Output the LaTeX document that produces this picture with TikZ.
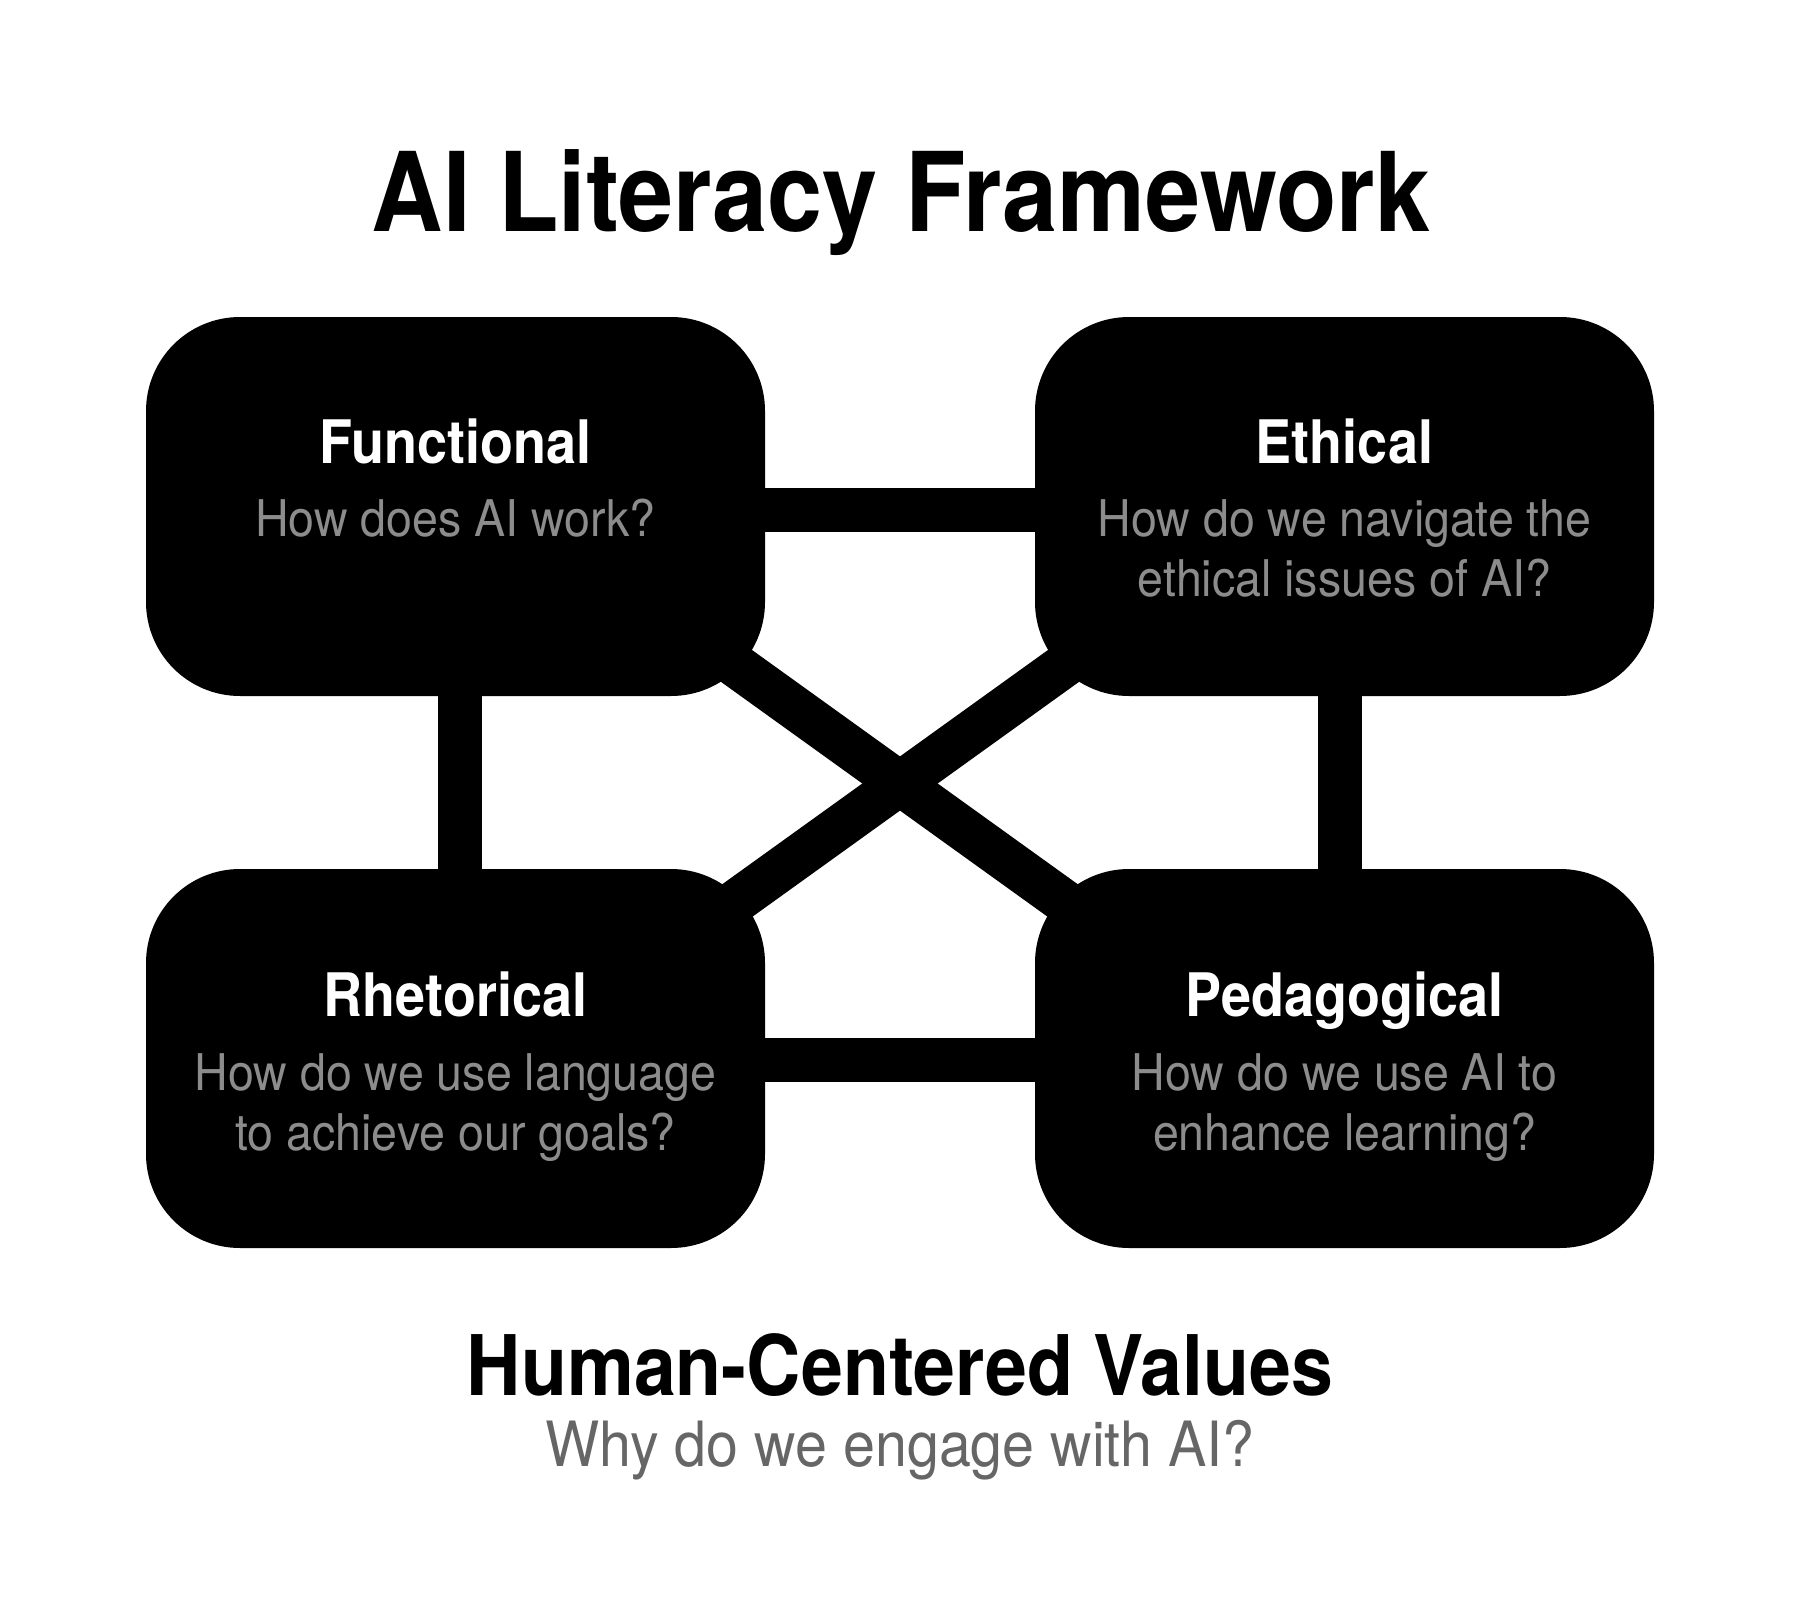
\documentclass[tikz,border=0pt]{standalone}
\usepackage{fontspec}
\usetikzlibrary{calc}
\newfontfamily\hbold[FakeStretch=0.9]{TeX Gyre Heros}
\newfontfamily\hreg[FakeStretch=0.92]{TeX Gyre Heros}
\definecolor{subgray}{HTML}{8C8C8C}
\definecolor{lowgray}{HTML}{666666}
\pgfdeclarelayer{back}
\pgfsetlayers{back,main}
\begin{document}
\begin{tikzpicture}[x=0.5pt,y=-0.5pt,
  card/.style={fill=black, draw=none, rounded corners=47pt, minimum width=309.5pt, minimum height=189.5pt, inner sep=0pt},
  link/.style={draw=black, line width=22pt},
  cardtitle/.style={anchor=base, inner sep=0pt, text=white, font=\hbold\bfseries\fontsize{30pt}{36pt}\selectfont},
  cardsub/.style={anchor=base, inner sep=0pt, text=subgray, font=\hreg\fontsize{25.3pt}{30pt}\selectfont},
  headline/.style={anchor=base, inner sep=0pt, text=black, font=\hbold\bfseries\fontsize{55pt}{60pt}\selectfont},
  footline/.style={anchor=base, inner sep=0pt, text=black, font=\hbold\bfseries\fontsize{41.8pt}{48pt}\selectfont},
  footsub/.style={anchor=base, inner sep=0pt, text=lowgray, font=\hreg\fontsize{31.2pt}{36pt}\selectfont}
]
\useasboundingbox (0,0) rectangle (1800,1600);

% title
\node[headline] (title) at (901,231) {AI Literacy Framework};

% cards
\node[card] (f) at (455.5,506.5) {};
\node[card] (e) at (1344.5,506.5) {};
\node[card] (r) at (455.5,1058.5) {};
\node[card] (p) at (1344.5,1058.5) {};

% diagonal end points (hidden inside the cards)
\coordinate (f-d) at ($(f.south east)+(-95,-78)$);
\coordinate (p-d) at ($(p.north west)+(95,80)$);
\coordinate (e-d) at ($(e.south west)+(95,-78)$);
\coordinate (r-d) at ($(r.north east)+(-95,80)$);

\begin{pgfonlayer}{back}
\fill[white] (0,0) rectangle (1800,1600);
\draw[link] ([yshift=-1.75pt]f.east) -- ([yshift=-1.75pt]e.west);
\draw[link] ([yshift=-0.75pt]r.east) -- ([yshift=-0.75pt]p.west);
\draw[link] ([xshift=2.25pt]f.south) -- ([xshift=2.25pt]r.north);
\draw[link] ([xshift=-2.25pt]e.south) -- ([xshift=-2.25pt]p.north);
\draw[link] (f-d) -- (p-d);
\draw[link] (e-d) -- (r-d);
\end{pgfonlayer}

% card texts
\node[cardtitle] (f-t) at ($(f.north)+(0,147)$) {Functional};
\node[cardsub] (f-s1) at ($(f.north)+(0,220)$) {How does AI work?};

\node[cardtitle] (e-t) at ($(e.north)+(0,147)$) {Ethical};
\node[cardsub] (e-s1) at ($(e.north)+(0,220)$) {How do we navigate the};
\node[cardsub] (e-s2) at ($(e.north)+(0,280)$) {ethical issues of AI?};

\node[cardtitle] (r-t) at ($(r.north)+(0,148)$) {Rhetorical};
\node[cardsub] (r-s1) at ($(r.north)+(0,222)$) {How do we use language};
\node[cardsub] (r-s2) at ($(r.north)+(0,282)$) {to achieve our goals?};

\node[cardtitle] (p-t) at ($(p.north)+(0,148)$) {Pedagogical};
\node[cardsub] (p-s1) at ($(p.north)+(0,222)$) {How do we use AI to};
\node[cardsub] (p-s2) at ($(p.north)+(0,282)$) {enhance learning?};

% footer
\node[footline] (hv) at (900,1395) {Human-Centered Values};
\node[footsub] (why) at (900,1466) {Why do we engage with AI?};
\end{tikzpicture}
\end{document}
